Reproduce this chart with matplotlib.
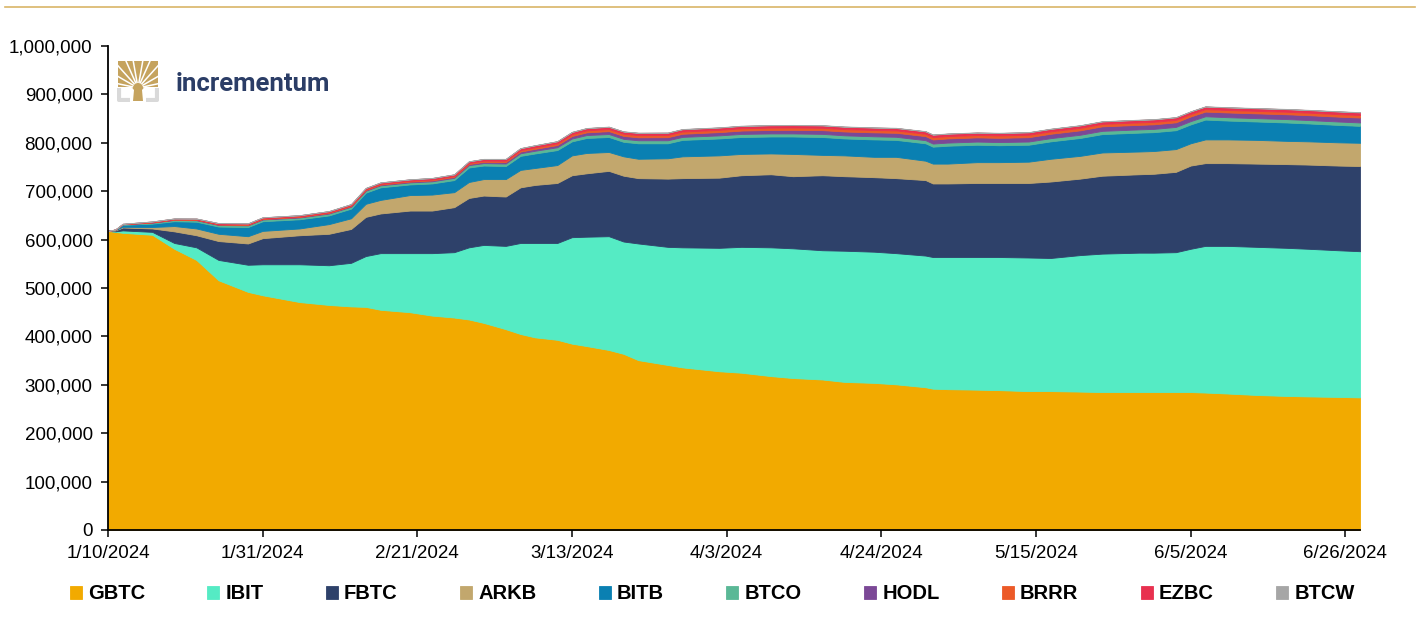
import matplotlib
matplotlib.use('Agg')
import matplotlib.pyplot as plt
import matplotlib.dates as mdates
from matplotlib.lines import Line2D
from matplotlib.patches import Rectangle, Polygon
from matplotlib.ticker import FuncFormatter, MultipleLocator
import numpy as np
import pandas as pd

# holdings in thousand BTC
dates = ['2024-01-10', '2024-01-11', '2024-01-12', '2024-01-16', '2024-01-19', '2024-01-22', '2024-01-25', '2024-01-29', '2024-01-31',
         '2024-02-05', '2024-02-09', '2024-02-12', '2024-02-14', '2024-02-16', '2024-02-20', '2024-02-23', '2024-02-26', '2024-02-28',
         '2024-03-01', '2024-03-04', '2024-03-06', '2024-03-08', '2024-03-11', '2024-03-13', '2024-03-15', '2024-03-18', '2024-03-20',
         '2024-03-22', '2024-03-26', '2024-03-28',
         '2024-04-02', '2024-04-05', '2024-04-09', '2024-04-12', '2024-04-16', '2024-04-19', '2024-04-23', '2024-04-26', '2024-04-30',
         '2024-05-01', '2024-05-03', '2024-05-07', '2024-05-10', '2024-05-14', '2024-05-17', '2024-05-21', '2024-05-24', '2024-05-29',
         '2024-05-31',
         '2024-06-03', '2024-06-05', '2024-06-07', '2024-06-10', '2024-06-14', '2024-06-18', '2024-06-21', '2024-06-25', '2024-06-28']

gbtc = [618, 616, 614, 610, 581, 558, 516, 492, 485,
        471, 465, 462, 461, 455, 450, 443, 439, 435,
        428, 415, 405, 398, 393, 385, 380, 372, 364, 351, 341, 336,
        328, 325, 318, 314, 311, 306, 304, 301, 295,
        292, 291, 290, 289, 287, 287, 286, 285, 285, 285,
        285, 285, 284, 282, 279, 277, 276, 275, 274]
ibit = [0, 1, 5, 6, 12, 26, 42, 56, 64,
        78, 82, 90, 105, 117, 122, 129, 135, 149,
        161, 172, 188, 195, 200, 220, 226, 235, 232, 241, 244, 248,
        255, 260, 266, 268, 267, 271, 271, 271, 272,
        272, 273, 274, 275, 276, 275, 282, 286, 288, 288,
        289, 296, 303, 305, 306, 306, 305, 303, 302]
fbtc = [0, 2, 6, 7, 24, 25, 39, 44, 54,
        60, 65, 70, 81, 82, 88, 88, 93, 102,
        102, 102, 115, 120, 124, 128, 131, 135, 136, 135, 141, 143,
        145, 148, 151, 149, 155, 154, 154, 155, 156,
        152, 152, 153, 153, 154, 158, 158, 161, 162, 163,
        166, 172, 171, 171, 172, 173, 174, 175, 176]
arkb = [0, 0.5, 1.5, 3, 11, 14, 15, 15, 15,
        14, 20, 22, 27, 28, 32, 33, 31, 33,
        34, 36, 36, 35, 37, 41, 42, 39, 40, 40, 42, 45,
        46, 44, 43, 46, 42, 43, 42, 44, 40,
        41, 41, 43, 43, 44, 47, 47, 48, 47, 47,
        47, 46, 49, 49, 49, 48, 48, 48, 48]
bitb = [0, 0.8, 4, 7, 10, 14, 15, 19, 20,
        19, 18, 20, 23, 26, 22, 23, 25, 30,
        28, 27, 29, 30, 31, 29, 31, 31, 30, 32, 31, 34,
        35, 35, 35, 36, 37, 35, 36, 35, 36,
        35, 37, 36, 35, 35, 36, 37, 38, 39, 39,
        39, 39, 41, 39, 38, 38, 37, 36, 35]
btco = [0, 0.3, 1.0, 2.0, 2.6, 3.0, 3.2, 3.4, 3.5,
        3.6, 3.8, 3.9, 4.0, 4.1, 4.2, 4.4, 4.6, 4.8,
        5.0, 5.2, 5.4, 5.6, 5.8, 5.9, 6.0, 6.1, 6.1, 6.2, 6.2, 6.2,
        6.3, 6.3, 6.3, 6.3, 6.4, 6.4, 6.4, 6.4, 6.4,
        6.4, 6.4, 6.5, 6.5, 6.6, 6.6, 6.6, 6.7, 6.7, 6.7,
        6.8, 6.8, 6.8, 6.9, 6.9, 7.0, 7.0, 7.0, 7.0]
hodl = [0, 0.1, 0.3, 0.5, 0.6, 0.7, 0.8, 0.9, 1.0,
        1.1, 1.2, 1.3, 1.4, 1.5, 1.6, 1.8, 2.0, 2.3,
        2.6, 3.0, 3.5, 4.0, 4.6, 5.2, 5.6, 6.0, 6.1, 6.2, 6.4, 6.5,
        6.8, 7.0, 7.3, 7.5, 7.8, 8.0, 8.2, 8.3, 8.4,
        8.5, 8.6, 8.7, 8.8, 9.0, 9.1, 9.2, 9.3, 9.4, 9.5,
        9.5, 9.6, 9.7, 9.8, 9.9, 10.0, 10.1, 10.1, 10.2]
brrr = [0, 0.1, 0.3, 0.7, 0.9, 1.0, 1.1, 1.2, 1.3,
        1.4, 1.5, 1.6, 1.7, 1.8, 1.9, 2.0, 2.1, 2.3,
        2.5, 2.7, 3.0, 3.2, 3.5, 3.8, 4.1, 4.3, 4.4, 4.4, 4.5, 4.5,
        4.6, 4.6, 4.7, 4.7, 4.7, 4.8, 4.8, 4.8, 4.8,
        4.8, 4.8, 4.8, 4.9, 4.9, 4.9, 5.0, 5.0, 5.0, 5.0,
        5.0, 5.0, 5.0, 5.0, 5.1, 5.1, 5.1, 5.1, 5.1]
ezbc = [0, 0.2, 0.6, 1.2, 1.5, 1.7, 1.9, 2.0, 2.1,
        2.2, 2.3, 2.4, 2.5, 2.6, 2.7, 2.9, 3.0, 3.2,
        3.4, 3.6, 3.8, 4.0, 4.2, 4.4, 4.5, 4.6, 4.6, 4.7, 4.7, 4.8,
        4.8, 4.9, 4.9, 5.0, 5.0, 5.0, 5.0, 5.0, 5.0,
        5.0, 5.0, 5.0, 5.0, 5.1, 5.1, 5.1, 5.1, 5.2, 5.2,
        5.3, 5.3, 5.4, 5.4, 5.4, 5.4, 5.4, 5.5, 5.5]
btcw = [0, 0.05, 0.1, 0.1, 0.15, 0.2, 0.2, 0.2, 0.2,
        0.2, 0.2, 0.2, 0.25, 0.25, 0.25, 0.3, 0.3, 0.3,
        0.3, 0.35, 0.4, 0.4, 0.4, 0.45, 0.45, 0.45, 0.45, 0.45, 0.45, 0.5,
        0.5, 0.5, 0.5, 0.5, 0.5, 0.5, 0.5, 0.5, 0.5,
        0.5, 0.5, 0.5, 0.5, 0.5, 0.5, 0.5, 0.5, 0.5, 0.5,
        0.5, 0.5, 0.5, 0.5, 0.5, 0.5, 0.5, 0.5, 0.5]

labels = ['GBTC', 'IBIT', 'FBTC', 'ARKB', 'BITB', 'BTCO', 'HODL', 'BRRR', 'EZBC', 'BTCW']
colors = ['#F2AA00', '#55EBC4', '#2E416A', '#C2A76D', '#0A80B2',
          '#5AB896', '#7B4896', '#EC5A28', '#E8314F', '#A6A6A6']
tick_dates = ['2024-01-10', '2024-01-31', '2024-02-21', '2024-03-13', '2024-04-03',
              '2024-04-24', '2024-05-15', '2024-06-05', '2024-06-26']

x = pd.to_datetime(dates)
series = [np.array(s) * 1000 for s in [gbtc, ibit, fbtc, arkb, bitb, btco, hodl, brrr, ezbc, btcw]]

W, H = 1420, 635
fig = plt.figure(figsize=(W / 100, H / 100), dpi=100)
ax = fig.add_axes([108 / W, 105 / H, 1252 / W, 484 / H])

polys = ax.stackplot(x, *series, colors=colors, labels=labels, linewidth=0.6)
for p, c in zip(polys, colors):
    p.set_edgecolor(c)

ax.set_ylim(0, 1000000)
ax.set_xlim(x[0], x[-1])
ax.yaxis.set_major_locator(MultipleLocator(100000))
ax.yaxis.set_major_formatter(FuncFormatter(lambda v, p: '{:,.0f}'.format(v)))
ax.set_xticks(pd.to_datetime(tick_dates))
ax.xaxis.set_major_formatter(FuncFormatter(
    lambda v, p: '{d.month}/{d.day}/{d.year}'.format(d=mdates.num2date(v))))

for s in ['top', 'right']:
    ax.spines[s].set_visible(False)
for s in ['left', 'bottom']:
    ax.spines[s].set_linewidth(1.3)
ax.tick_params(direction='out', length=5, width=1.1, pad=6, labelsize=13.5, colors='black')
for lab in ax.get_xticklabels() + ax.get_yticklabels():
    lab.set_family('Liberation Sans')

fig.legend(loc='center left', bbox_to_anchor=(0.049, 0.065), ncol=10, frameon=False,
           prop={'family': 'Liberation Sans', 'weight': 'bold', 'size': 14.5},
           handlelength=0.6, handleheight=0.6, handletextpad=0.3, columnspacing=3.1,
           borderpad=0, borderaxespad=0)

# thin rule across the top
fig.add_artist(Line2D([5 / W, 1415 / W], [1 - 7 / H, 1 - 7 / H], color='#D9B567', lw=1.2))

# logo
lax = fig.add_axes([117 / W, (H - 102) / H, 42 / W, 42 / H])
lax.set_xlim(0, 42)
lax.set_ylim(0, 42)
lax.axis('off')
gold = '#C5A35E'
grey = '#D9D9D9'
lax.add_patch(Rectangle((1, 15), 40, 26, color=gold, lw=0))
lax.add_patch(Polygon([[16, 1], [26, 1], [25, 12], [30, 18], [12, 18], [17, 12]], closed=True, color=gold, lw=0))
for ang in [12, 30, 48, 66, 80, 100, 114, 132, 150, 168]:
    a = np.radians(ang)
    lax.plot([21 + 5 * np.cos(a), 21 + 40 * np.cos(a)], [14 + 5 * np.sin(a), 14 + 40 * np.sin(a)],
             color='white', lw=1.1, solid_capstyle='butt')
lax.plot([2, 2, 13], [14, 2, 2], color=grey, lw=3, solid_capstyle='butt')
lax.plot([40, 40, 29], [14, 2, 2], color=grey, lw=3, solid_capstyle='butt')
fig.text(176 / W, 1 - 91 / H, 'incrementum', fontsize=18.5, color='#2B3D66',
         family='Roboto', weight='bold', va='baseline', ha='left')

fig.savefig('out.png', dpi=100)
